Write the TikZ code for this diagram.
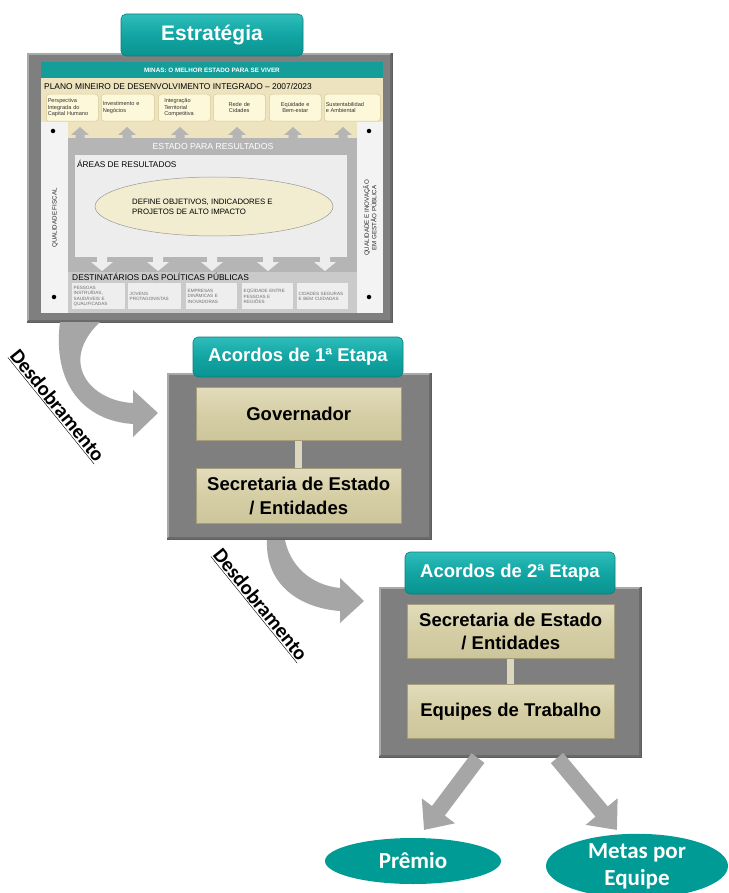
\documentclass[tikz,border=0pt]{standalone}
\usepackage{fontspec}
\setmainfont{Liberation Sans}
\newfontfamily\calib{Carlito}
\usetikzlibrary{arrows.meta,calc,shapes.geometric}

\definecolor{tealtab}{HTML}{12A5A3}
\definecolor{tealtop}{HTML}{2EBDBA}
\definecolor{tealbot}{HTML}{0A9390}
\definecolor{tealedge}{HTML}{0B7F7D}
\definecolor{tealell}{HTML}{009B95}
\definecolor{frgrey}{HTML}{7F7F7F}
\definecolor{frdark}{HTML}{5E5E5E}
\definecolor{bevlight}{HTML}{A9A9A9}
\definecolor{bevdark}{HTML}{6A6A6A}
\definecolor{beige}{HTML}{D5CEA5}
\definecolor{beigetop}{HTML}{E2DCBC}
\definecolor{beigebot}{HTML}{CDC59A}
\definecolor{barc}{HTML}{DCD6BC}
\definecolor{arrgrey}{HTML}{A6A6A6}
\definecolor{imgbg}{HTML}{F3F3F3}
\definecolor{minasteal}{HTML}{149D99}
\definecolor{pmdibeige}{HTML}{EDE3BE}
\definecolor{sboxfill}{HTML}{FDF8DA}
\definecolor{sboxdraw}{HTML}{D6CA96}
\definecolor{midgrey}{HTML}{B5B5B5}
\definecolor{innerbox}{HTML}{EDEDED}
\definecolor{destgrey}{HTML}{CACACA}
\definecolor{dbox}{HTML}{EEEEEE}
\definecolor{ellfill}{HTML}{F2EDD0}
\definecolor{smalltext}{HTML}{6E6E6E}

\newcommand\fsz[2]{\fontsize{#1}{#2}\selectfont}

\newcommand\greyframe[5]{%
  \node[frame, anchor=north west, minimum width={(#4-#2)*1pt}, minimum height={(#5-#3)*1pt}] (#1) at (#2,#3) {};
  \draw[bevlight, line width=1.6pt] (#2+1,#5-1) -- (#2+1,#3+1) -- (#4-1,#3+1);
  \draw[bevdark, line width=1.6pt] (#4-1,#3+1) -- (#4-1,#5-1) -- (#2+1,#5-1);
}

\tikzset{
  frame/.style={fill=frgrey, draw=frdark, line width=0.6pt, inner sep=0pt, outer sep=0pt},
  tab/.style={rounded corners=5pt, top color=tealtop, bottom color=tealbot, middle color=tealtab,
    draw=tealedge, line width=0.6pt, text=white, font=\bfseries\fsz{18.5}{22}, inner sep=0pt},
  bbox/.style={top color=beigetop, bottom color=beigebot, middle color=beige, draw=beigebot!80!black,
    line width=0.5pt, font=\bfseries\fsz{18.5}{23.5}, align=center, inner sep=0pt, anchor=north west},
  bar/.style={barc, line width=7pt},
  sbox/.style={draw=sboxdraw, fill=sboxfill, rounded corners=3pt, line width=0.5pt, anchor=north west,
    minimum height=27pt, inner sep=1.5pt, font=\fsz{5.6}{6.4}, text=black!80},
  dbx/.style={fill=dbox, anchor=north west, minimum height=26pt, inner sep=1.5pt,
    font=\fsz{4.6}{5.4}, text=smalltext, align=left},
  oval/.style={ellipse, fill=tealell, text=white, font=\calib\bfseries\fsz{23}{27}, align=center, inner sep=0pt},
  bigarrow/.style={arrgrey, line width=16pt, -{Triangle[width=40pt,length=24pt]}},
  curvearrow/.style={fill=arrgrey},
  desd/.style={rotate=-51, font=\calib\bfseries\fsz{20.5}{24}},
  dot/.style={fill=black, circle, inner sep=0pt, minimum size=4.5pt},
}

\begin{document}
\begin{tikzpicture}[x=1pt, y=-1pt]
\useasboundingbox (0,0) rectangle (728,893);
\fill[white] (0,0) rectangle (728,893);

% ================= TOP FRAME (Estrategia) =================
\greyframe{f1}{27}{53}{392}{322}
\fill[imgbg] (41,62) rectangle (383,313);
\fill[minasteal] (41,62) rectangle (383,78);
\node[white, font=\bfseries\fsz{6.3}{7}] (minas) at (212,70) {MINAS: O MELHOR ESTADO PARA SE VIVER};
\fill[pmdibeige] (41,78) rectangle (383,122);
\fill[pmdibeige] (68,122) rectangle (357,138);
\node[anchor=west, inner sep=0pt, font=\fsz{8.4}{9}] (pmdi) at (44,86.5) {PLANO MINEIRO DE DESENVOLVIMENTO INTEGRADO – 2007/2023};

\node[sbox, minimum width=52pt, text width=49pt, align=left] (p1) at (46,94) {Perspectiva\\Integrada do\\Capital Humano};
\node[sbox, minimum width=53pt, text width=50pt, align=left] (p2) at (101,94) {Investimento e\\Negócios};
\node[sbox, minimum width=52pt, text width=40pt, align=left] (p3) at (158,94) {Integração\\Territorial\\Competitiva};
\node[sbox, minimum width=52pt, text width=49pt, align=center] (p4) at (213,94) {Rede de\\Cidades};
\node[sbox, minimum width=52pt, text width=49pt, align=center] (p5) at (269,94) {Eqüidade e\\Bem-estar};
\node[sbox, minimum width=56pt, text width=53pt, align=left] (p6) at (324,94) {Sustentabilidad\\e Ambiental};

% middle grey structure
\fill[midgrey] (68,138) rectangle (357,272);
\foreach \ax in {80,127,180,237,293,343}{
  \fill[midgrey] (\ax-4.5,139) -- (\ax-4.5,135) -- (\ax-9,135) -- (\ax,127) -- (\ax+9,135) -- (\ax+4.5,135) -- (\ax+4.5,139) -- cycle;
}
\node[white, font=\fsz{8.7}{9}] (epr) at (213,147) {ESTADO PARA RESULTADOS};
\fill[innerbox] (75,155) rectangle (347,257);
\node[anchor=west, inner sep=0pt, font=\fsz{8.3}{9}] (areas) at (77,164) {ÁREAS DE RESULTADOS};
\node[ellipse, draw=black!40, fill=ellfill, line width=0.5pt, minimum width=238pt, minimum height=59pt] (def) at (214,206.5) {};
\node[anchor=west, align=left, inner sep=0pt, font=\fsz{7.8}{9.5}] (deftxt) at (132,207) {DEFINE OBJETIVOS, INDICADORES E\\PROJETOS DE ALTO IMPACTO};

\fill[destgrey] (68,272) rectangle (357,313);
\foreach \ax in {102,158,212,268,325}{
  \fill[innerbox] (\ax-5,256) -- (\ax-5,262) -- (\ax-11,262) -- (\ax,271) -- (\ax+11,262) -- (\ax+5,262) -- (\ax+5,256) -- cycle;
}
\node[anchor=west, inner sep=0pt, font=\fsz{8.4}{9}] (dest) at (72,277) {DESTINATÁRIOS DAS POLÍTICAS PÚBLICAS};
\node[dbx, minimum width=53pt, text width=50pt] (d1b) at (72,283) {PESSOAS\\INSTRUÍDAS,\\SAUDÁVEIS E\\QUALIFICADAS};
\node[dbx, minimum width=53pt, text width=50pt] (d2b) at (128,283) {JOVENS\\PROTAGONISTAS};
\node[dbx, minimum width=51pt, text width=48pt] (d3b) at (186,283) {EMPRESAS\\DINÂMICAS E\\INOVADORAS};
\node[dbx, minimum width=51pt, text width=48pt] (d4b) at (242,283) {EQÜIDADE ENTRE\\PESSOAS E\\REGIÕES};
\node[dbx, minimum width=51pt, text width=48pt] (d5b) at (297,283) {CIDADES SEGURAS\\E BEM CUIDADAS};

% side columns
\node[dot] (dl1) at (53,131) {};
\node[dot] (dl2) at (54,297) {};
\node[dot] (dr1) at (369,131) {};
\node[dot] (dr2) at (369,297) {};
\node[rotate=90, font=\fsz{6.2}{7}, text=black!85] (qf) at (55,218) {QUALIDADE FISCAL};
\node[rotate=90, align=center, font=\fsz{6.2}{7.6}, text=black!85] (qi) at (370,218) {QUALIDADE E INOVAÇÃO\\EM GESTÃO PÚBLICA};

\node[tab, minimum width=182pt, minimum height=42pt] (t1) at (212,35) {\fsz{21}{24}Estratégia};

% ================= curved arrow 1 =================
\fill[curvearrow] (60,322) .. controls (52,385) and (85,421) .. (133,424) -- (133,437) -- (158,413)
  -- (133,390) -- (133,403) .. controls (90,401) and (58,362) .. (100,322) -- cycle;
\node[desd] (desd1) at (57,406) {\underline{Desdobramento}};

% ================= FRAME 2 =================
\greyframe{f2}{167}{373}{431}{539}
\node[tab, minimum width=210pt, minimum height=40pt] (t2) at (298,357) {Acordos de 1ª Etapa};
\node[bbox, minimum width=205pt, minimum height=53pt] (gov) at (196,387) {Governador};
\node[bbox, minimum width=205pt, minimum height=55pt] (sec1) at (196,468) {Secretaria de Estado\\/ Entidades};
\draw[bar] (gov.south) -- (sec1.north);

% ================= curved arrow 2 =================
\fill[curvearrow] (267,540) .. controls (265,585) and (300,608) .. (340,611) -- (340,623) -- (364,601)
  -- (340,578) -- (340,588) .. controls (310,585) and (290,565) .. (285,540) -- cycle;
\node[desd] (desd2) at (260,605) {\underline{Desdobramento}};

% ================= FRAME 3 =================
\greyframe{f3}{379}{587}{641}{757}
\node[tab, minimum width=210pt, minimum height=42pt] (t3) at (510,573) {Acordos de 2ª Etapa};
\node[bbox, minimum width=207pt, minimum height=54pt] (sec2) at (407,604) {Secretaria de Estado\\/ Entidades};
\node[bbox, minimum width=207pt, minimum height=54pt] (equ) at (407,684) {Equipes de Trabalho};
\draw[bar] (sec2.south) -- (equ.north);

% ================= outputs =================
\node[oval, minimum width=176pt, minimum height=46pt] (prem) at (413,861) {Prêmio};
\node[oval, minimum width=182pt, minimum height=62pt] (metas) at (637,866) {Metas por\\Equipe};
\coordinate (la) at (478,758);
\coordinate (ra) at (557,758);
\draw[bigarrow] (la) -- (424,830);
\draw[bigarrow] (ra) -- (617,830);
\end{tikzpicture}
\end{document}
